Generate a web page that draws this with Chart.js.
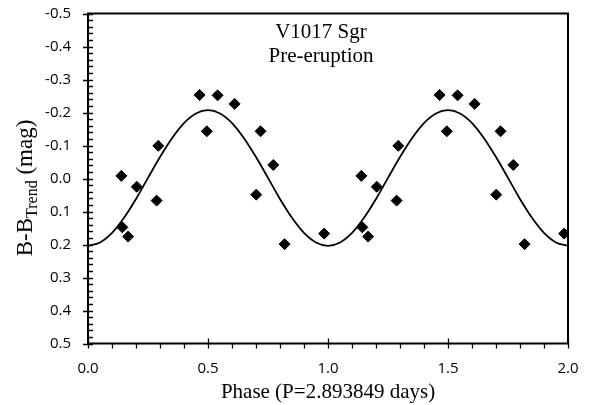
<!DOCTYPE html>
<html>
<head>
<meta charset="utf-8">
<script src="https://cdn.jsdelivr.net/npm/chart.js@4/dist/chart.umd.min.js"></script>
<style>
  html, body { margin: 0; padding: 0; background: #fff; }
  #chart { display: block; }
</style>
</head>
<body>
<canvas id="chart" width="594" height="405"></canvas>
<script>
// ---------------------------------------------------------------
// Dados
// ---------------------------------------------------------------

// observações, primeiro ciclo
const phaseCycle1 = [0.139, 0.143, 0.167, 0.203, 0.286, 0.293, 0.465, 0.495,
                     0.540, 0.611, 0.701, 0.719, 0.772, 0.819, 0.984];
const magCycle1   = [-0.008, 0.148, 0.176, 0.025, 0.067, -0.099, -0.253, -0.143,
                     -0.252, -0.226, 0.049, -0.143, -0.041, 0.199, 0.167];

// observações, segundo ciclo (repetidas)
const phaseCycle2 = [1.139, 1.143, 1.167, 1.203, 1.286, 1.293, 1.465, 1.495,
                     1.540, 1.611, 1.701, 1.719, 1.772, 1.819, 1.984];
const magCycle2   = [-0.008, 0.148, 0.176, 0.025, 0.067, -0.099, -0.253, -0.143,
                     -0.252, -0.226, 0.049, -0.143, -0.041, 0.199, 0.167];

// curva ajustada
const fitPhase = [0.00, 0.05, 0.10, 0.15, 0.20, 0.25, 0.30, 0.35, 0.40, 0.45,
                  0.50, 0.55, 0.60, 0.65, 0.70, 0.75, 0.80, 0.85, 0.90, 0.95,
                  1.00, 1.05, 1.10, 1.15, 1.20, 1.25, 1.30, 1.35, 1.40, 1.45,
                  1.50, 1.55, 1.60, 1.65, 1.70, 1.75, 1.80, 1.85, 1.90, 1.95, 2.00];
const fitMag   = [0.204, 0.194, 0.165, 0.119, 0.062, -0.002, -0.065, -0.122, -0.168, -0.197,
                  -0.207, -0.197, -0.168, -0.122, -0.065, -0.002, 0.062, 0.119, 0.165, 0.194,
                  0.204, 0.194, 0.165, 0.119, 0.062, -0.002, -0.065, -0.122, -0.168, -0.197,
                  -0.207, -0.197, -0.168, -0.122, -0.065, -0.002, 0.062, 0.119, 0.165, 0.194, 0.204];

// rótulos dos eixos (valor -> texto)
const xTickValues = [0, 0.5, 1, 1.5, 2];
const xTickLabels = ["0.0", "0.5", "1.0", "1.5", "2.0"];
const yTickValues = [-0.5, -0.4, -0.3, -0.2, -0.1, 0, 0.1, 0.2, 0.3, 0.4, 0.5];
const yTickLabels = ["-0.5", "-0.4", "-0.3", "-0.2", "-0.1", "0.0",
                     "0.1", "0.2", "0.3", "0.4", "0.5"];

const SERIF = "'Liberation Serif', 'Times New Roman', serif";
const SANS = "'Open Sans', 'Liberation Sans', sans-serif";

const toXY = (xs, ys) => xs.map((x, i) => ({ x: x, y: ys[i] }));

// procura o rótulo do valor mais próximo
function labelFor(values, labels, v) {
    let best = 0;
    values.forEach((t, i) => { if (Math.abs(t - v) < Math.abs(values[best] - v)) best = i; });
    return labels[best];
}

// ---------------------------------------------------------------
// Moldura, marcas dos eixos, título do eixo y e anotação
// ---------------------------------------------------------------
const framePlugin = {
    id: "frame",
    afterDraw(chart) {
        const { ctx, chartArea: a, scales: { x, y } } = chart;
        ctx.save();
        ctx.strokeStyle = "#000";

        // marcas do eixo y: maiores cruzando, menores para dentro
        ctx.lineWidth = 1.3;
        ctx.beginPath();
        for (let v = y.min; v <= y.max + 1e-9; v += 0.02) {
            const py = Math.round(y.getPixelForValue(v)) + 0.5;
            const major = Math.abs(v * 10 - Math.round(v * 10)) < 1e-6;
            ctx.moveTo(major ? a.left - 5 : a.left, py);
            ctx.lineTo(a.left + 5, py);
        }
        // marcas do eixo x: maiores cruzando, menores para fora
        for (let v = x.min; v <= x.max + 1e-9; v += 0.1) {
            const px = Math.round(x.getPixelForValue(v)) + 0.5;
            const major = Math.abs(v * 2 - Math.round(v * 2)) < 1e-6;
            ctx.moveTo(px, major ? a.bottom - 5 : a.bottom);
            ctx.lineTo(px, a.bottom + 5);
        }
        ctx.stroke();

        // moldura
        ctx.lineWidth = 2;
        ctx.strokeRect(a.left, a.top, a.right - a.left, a.bottom - a.top);

        // anotação
        ctx.fillStyle = "#000";
        ctx.textAlign = "center";
        ctx.textBaseline = "alphabetic";
        ctx.font = "21px " + SERIF;
        ctx.fillText("V1017 Sgr", 321, 38);
        ctx.fillText("Pre-eruption", 321, 62);

        // título do eixo y com subscrito
        ctx.translate(32, 188);
        ctx.rotate(-Math.PI / 2);
        const main = "23px " + SERIF, sub = "16px " + SERIF;
        const parts = [["B-B", main, 0], ["Trend", sub, 5], [" (mag)", main, 0]];
        let total = 0;
        for (const [t, f] of parts) { ctx.font = f; total += ctx.measureText(t).width; }
        let cx = -total / 2;
        ctx.textAlign = "left";
        for (const [t, f, dy] of parts) {
            ctx.font = f;
            ctx.fillText(t, cx, dy);
            cx += ctx.measureText(t).width;
        }
        ctx.restore();
    }
};

// ---------------------------------------------------------------
// Gráfico
// ---------------------------------------------------------------
new Chart(document.getElementById("chart"), {
    type: "scatter",
    data: {
        datasets: [
            {
                type: "line",
                label: "Ajuste",
                data: toXY(fitPhase, fitMag),
                borderColor: "#000",
                borderWidth: 1.8,
                pointRadius: 0,
                cubicInterpolationMode: "monotone",
                fill: false,
                order: 2
            },
            {
                label: "Ciclo 1",
                data: toXY(phaseCycle1, magCycle1),
                pointStyle: "rectRot",
                pointRadius: 5.5,
                backgroundColor: "#000",
                borderColor: "#000",
                borderWidth: 1,
                order: 1
            },
            {
                label: "Ciclo 2",
                data: toXY(phaseCycle2, magCycle2),
                pointStyle: "rectRot",
                pointRadius: 5.5,
                backgroundColor: "#000",
                borderColor: "#000",
                borderWidth: 1,
                order: 1
            }
        ]
    },
    options: {
        responsive: false,
        animation: false,
        layout: { padding: { left: 0, right: 26, top: 13.5, bottom: 0 } },
        plugins: { legend: { display: false }, tooltip: { enabled: false } },
        scales: {
            x: {
                type: "linear",
                min: 0, max: 2,
                grid: { display: false, drawTicks: false },
                border: { display: false },
                ticks: {
                    stepSize: 0.5,
                    padding: 16,
                    color: "#000",
                    font: { family: SANS, size: 15 },
                    callback: (v) => labelFor(xTickValues, xTickLabels, v)
                },
                title: {
                    display: true,
                    text: "Phase (P=2.893849 days)",
                    color: "#000",
                    font: { family: SERIF, size: 21 },
                    padding: { top: 0, bottom: 0 }
                },
                afterFit: (s) => { s.height = 61.5; s.paddingLeft = 0; s.paddingRight = 0; }
            },
            y: {
                type: "linear",
                reverse: true,
                min: -0.5, max: 0.5,
                grid: { display: false, drawTicks: false },
                border: { display: false },
                ticks: {
                    stepSize: 0.1,
                    padding: 17,
                    color: "#000",
                    font: { family: SANS, size: 15 },
                    callback: (v) => labelFor(yTickValues, yTickLabels, v)
                },
                afterFit: (s) => { s.width = 88; s.paddingTop = 0; s.paddingBottom = 0; }
            }
        }
    },
    plugins: [framePlugin]
});
</script>
</body>
</html>
